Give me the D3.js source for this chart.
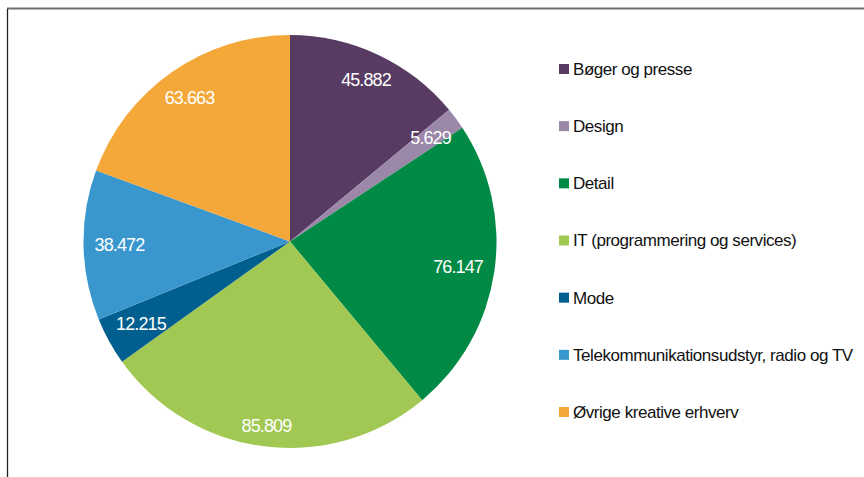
<!DOCTYPE html>
<html><head><meta charset="utf-8">
<script src="https://cdn.jsdelivr.net/npm/d3@7"></script>
<style>body{margin:0;background:#fff}svg{display:block}</style>
</head><body><svg id="c" width="864" height="477"></svg>
<script>
const categories = ["Bøger og presse","Design","Detail","IT (programmering og services)","Mode","Telekommunikationsudstyr, radio og TV","Øvrige kreative erhverv"];
const values = [45.882, 5.629, 76.147, 85.809, 12.215, 38.472, 63.663];
const labels = ["45.882","5.629","76.147","85.809","12.215","38.472","63.663"];
const colors = ["#573B63","#9B87A8","#008A45","#A0C853","#005F8E","#3A97CD","#F4A83A"];

const svg = d3.select("#c");
// frame
svg.append("line").attr("x1",7).attr("x2",864).attr("y1",8.5).attr("y2",8.5).attr("stroke","#6e6e6e").attr("stroke-width",2);
svg.append("line").attr("x1",7.5).attr("x2",7.5).attr("y1",9).attr("y2",477).attr("stroke","#222").attr("stroke-width",1.3);

const cx = 290, cy = 241.5, R = 206.5;
const pie = d3.pie().sort(null).value(d=>d)(values);
const arc = d3.arc().innerRadius(0).outerRadius(R);
const g = svg.append("g").attr("transform",`translate(${cx},${cy})`);
g.selectAll("path").data(pie).enter().append("path").attr("d",arc).attr("fill",(d,i)=>colors[i]);
const edge = 196;
g.selectAll("text").data(pie).enter().append("text")
  .attr("text-anchor","middle").attr("dy","0.35em")
  .attr("fill","#fff").attr("font-family","Liberation Sans, Arial, sans-serif")
  .attr("font-size",18).attr("letter-spacing","-0.9")
  .text((d,i)=>labels[i])
  .each(function(d){
    const bb = this.getBBox();
    const a = (d.startAngle+d.endAngle)/2;
    const sx = Math.sin(a), sy = -Math.cos(a);
    const hw = bb.width/2, hh = 7.5;
    const r = edge - (Math.abs(sx)*hw + Math.abs(sy)*hh);
    d3.select(this).attr("transform",`translate(${sx*r},${sy*r})`);
  });

const ly = d3.scalePoint().domain(categories).range([69,412]);
const lg = svg.append("g");
categories.forEach((c,i)=>{
  lg.append("rect").attr("x",559).attr("y",ly(c)-5).attr("width",10).attr("height",10).attr("fill",colors[i]);
  lg.append("text").attr("x",573).attr("y",ly(c)).attr("dy","0.35em")
    .attr("font-family","Liberation Sans, Arial, sans-serif").attr("font-size",17).attr("letter-spacing","-0.45")
    .attr("fill","#111").text(c);
});
</script></body></html>
